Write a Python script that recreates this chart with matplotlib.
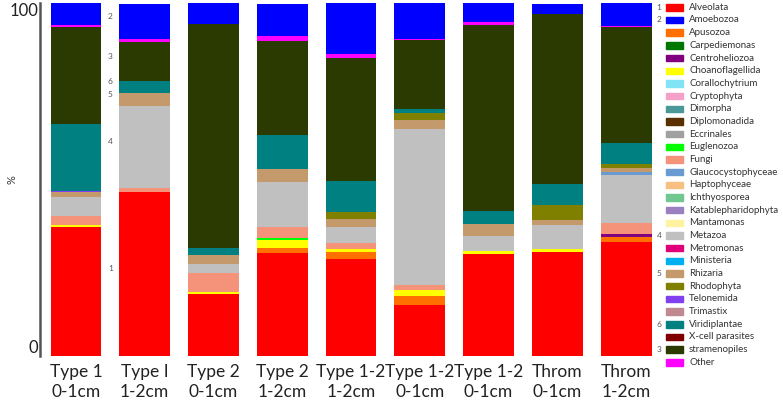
import matplotlib
matplotlib.use("Agg")
import matplotlib.pyplot as plt
import numpy as np
from matplotlib.patches import Rectangle

plt.rcParams['font.family'] = ['Lato', 'DejaVu Sans']

samples = ["Type 1\n0-1cm", "Type I\n1-2cm", "Type 2\n0-1cm", "Type 2\n1-2cm",
           "Type 1-2\n1-2cm", "Type 1-2\n0-1cm", "Type 1-2\n0-1cm", "Throm\n0-1cm", "Throm\n1-2cm"]

# percentages per sample
alveolata        = [36.6, 46.5, 17.5, 29.1, 27.4, 14.4, 28.9, 29.5, 32.4]
apusozoa         = [0.0, 0.0, 0.0, 1.4, 2.0, 2.5, 0.0, 0.0, 1.2]
centroheliozoa   = [0.0, 0.0, 0.0, 0.0, 0.0, 0.0, 0.0, 0.0, 0.9]
choanoflagellida = [0.5, 0.0, 0.7, 2.4, 0.8, 1.9, 0.9, 0.9, 0.0]
euglenozoa       = [0.0, 0.0, 0.0, 0.4, 0.0, 0.0, 0.0, 0.0, 0.0]
fungi            = [2.5, 1.2, 5.4, 3.2, 1.9, 1.2, 0.0, 0.0, 3.3]
metazoa          = [5.5, 23.0, 2.6, 12.8, 4.5, 44.4, 4.2, 6.6, 13.5]
glaucocystophyceae = [0.0, 0.0, 0.0, 0.0, 0.0, 0.0, 0.0, 0.0, 0.9]
rhizaria         = [1.4, 3.9, 2.4, 3.8, 2.2, 2.4, 3.4, 1.4, 1.1]
rhodophyta       = [0.0, 0.0, 0.0, 0.0, 2.0, 1.9, 0.0, 4.5, 1.2]
telonemida       = [0.3, 0.0, 0.0, 0.0, 0.0, 0.0, 0.0, 0.0, 0.0]
viridiplantae    = [18.8, 3.3, 2.1, 9.6, 8.9, 1.4, 3.8, 5.7, 5.9]
stramenopiles    = [27.7, 11.1, 63.4, 26.4, 34.7, 19.3, 52.6, 48.2, 32.7]
other            = [0.5, 0.7, 0.0, 1.6, 1.2, 0.5, 0.9, 0.0, 0.5]
amoebozoa        = [6.1, 10.1, 6.0, 9.0, 14.5, 10.1, 5.4, 2.8, 6.5]

legend_names = ["Alveolata", "Amoebozoa", "Apusozoa", "Carpediemonas", "Centroheliozoa",
                "Choanoflagellida", "Corallochytrium", "Cryptophyta", "Dimorpha", "Diplomonadida",
                "Eccrinales", "Euglenozoa", "Fungi", "Glaucocystophyceae", "Haptophyceae",
                "Ichthyosporea", "Katablepharidophyta", "Mantamonas", "Metazoa", "Metromonas",
                "Ministeria", "Rhizaria", "Rhodophyta", "Telonemida", "Trimastix",
                "Viridiplantae", "X-cell parasites", "stramenopiles", "Other"]
legend_colors = ["#ff0000", "#0000ff", "#ff7000", "#007800", "#800080",
                 "#ffff00", "#80e4f4", "#f4a0c8", "#4a9898", "#5a3000",
                 "#a0a0a0", "#00ff00", "#f4937a", "#6a9ad2", "#f8c080",
                 "#70c890", "#9a80c0", "#fff2a0", "#c0c0c0", "#e0007a",
                 "#00b0f0", "#c49a6c", "#808000", "#8040f0", "#c08890",
                 "#008080", "#800000", "#2b3a00", "#ff00ff"]
legend_marks = {"Alveolata": "1", "Amoebozoa": "2", "Metazoa": "4", "Rhizaria": "5",
                "Viridiplantae": "6", "stramenopiles": "3"}

# stacking order bottom -> top
stack = [("Alveolata", alveolata), ("Apusozoa", apusozoa), ("Centroheliozoa", centroheliozoa),
         ("Choanoflagellida", choanoflagellida), ("Euglenozoa", euglenozoa), ("Fungi", fungi),
         ("Metazoa", metazoa), ("Glaucocystophyceae", glaucocystophyceae), ("Rhizaria", rhizaria),
         ("Rhodophyta", rhodophyta), ("Telonemida", telonemida), ("Viridiplantae", viridiplantae),
         ("stramenopiles", stramenopiles), ("Other", other), ("Amoebozoa", amoebozoa)]

color_of = dict(zip(legend_names, legend_colors))

W, H = 783, 401
fig = plt.figure(figsize=(W / 100, H / 100), dpi=100)
ax = fig.add_axes([40 / W, (H - 356) / H, 615 / W, 353 / H])

x = np.arange(len(samples))
bottom = np.zeros(len(samples))
seg_centers = {}
for name, vals in stack:
    v = np.array(vals)
    ax.bar(x, v, bottom=bottom, width=0.74, color=color_of[name], linewidth=0)
    seg_centers[name] = bottom + v / 2
    bottom = bottom + v

ax.set_xlim(-0.523, 8.42)
ax.set_ylim(0, 100)
ax.set_yticks([0, 100])
ax.set_yticklabels(["0", "100"], fontsize=12, color="#222222")
ylabs = ax.get_yticklabels()
ylabs[0].set_verticalalignment("bottom")
ylabs[1].set_verticalalignment("top")
ax.tick_params(axis='y', length=0, pad=1)
ax.tick_params(axis='x', length=0, pad=6)
ax.set_xticks(x)
ax.set_xticklabels(samples, fontsize=12.5, linespacing=1.3, color="#222222")
for s in ["top", "right", "bottom"]:
    ax.spines[s].set_visible(False)
ax.spines["left"].set_color("#555555")
ax.spines["left"].set_linewidth(1.8)
ax.set_ylabel("%", fontsize=8, color="#333333")
ax.yaxis.set_label_coords(-0.036, 0.5)

# numbers beside bar 2 segments
for name, mark in legend_marks.items():
    cy = seg_centers[name][1]
    ax.text(0.5, cy + 1.5, mark, fontsize=6, color="#555555", ha="center", va="center")

# legend (manually laid out rows)
y0 = 7.3
dy = 12.68
for i, (name, col) in enumerate(zip(legend_names, legend_colors)):
    yc = y0 + i * dy
    fig.patches.append(Rectangle((666 / W, (H - yc - 3.2) / H), 17 / W, 6.4 / H,
                                 transform=fig.transFigure, color=col, figure=fig))
    fig.text(689 / W, (H - yc) / H, name, fontsize=7, va="center", ha="left", color="#333333")
    if name in legend_marks:
        fig.text(659 / W, (H - yc) / H, legend_marks[name], fontsize=6, va="center",
                 ha="center", color="#555555")

fig.savefig("out.png", dpi=100)
